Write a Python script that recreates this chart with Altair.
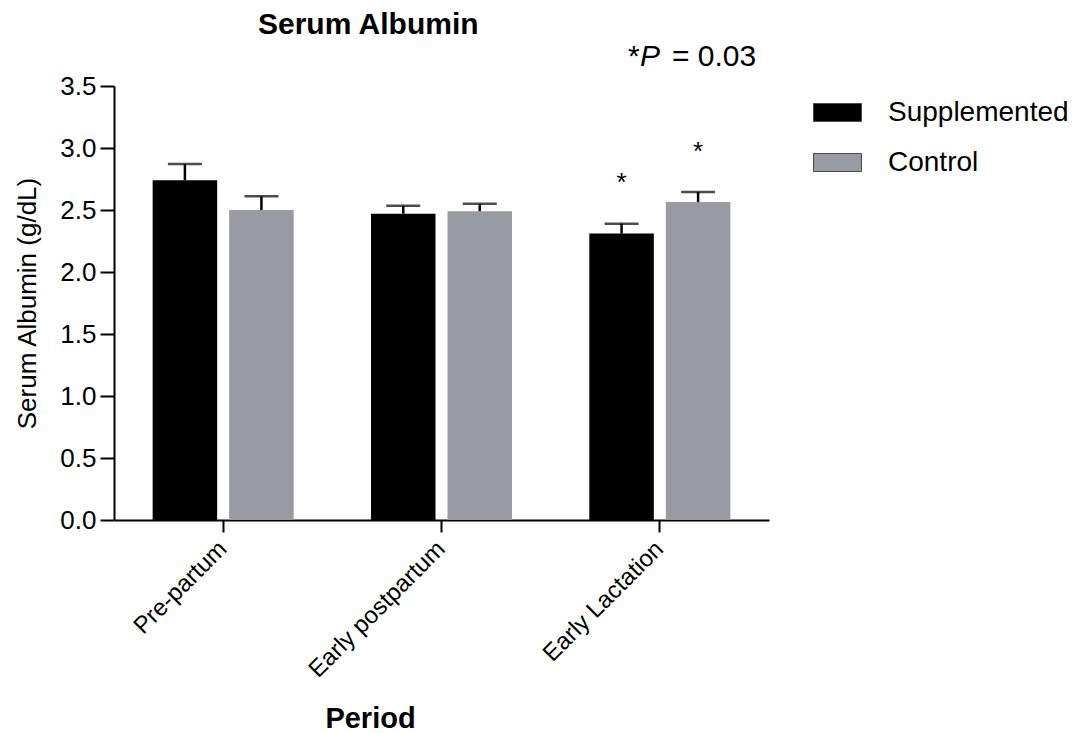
import altair as alt
import pandas as pd

FONT = "Liberation Sans"

periods = ["Pre-partum", "Early postpartum", "Early Lactation"]
groups = ["Supplemented", "Control"]
colors = ["#000000", "#999BA2"]

supp_mean = [2.74, 2.47, 2.31]
supp_err = [0.13, 0.065, 0.08]
supp_star = ["", "", "*"]

ctrl_mean = [2.50, 2.49, 2.565]
ctrl_err = [0.11, 0.06, 0.08]
ctrl_star = ["", "", "*"]

y_ticks = [0.0, 0.5, 1.0, 1.5, 2.0, 2.5, 3.0, 3.5]
p_parts = ["*", "P", "= 0.03"]

rows = []
for i, p in enumerate(periods):
    rows.append(dict(period=p, group="Supplemented", mean=supp_mean[i], err=supp_err[i], star=supp_star[i]))
    rows.append(dict(period=p, group="Control", mean=ctrl_mean[i], err=ctrl_err[i], star=ctrl_star[i]))
df = pd.DataFrame(rows)
df["top"] = df["mean"] + df["err"]
df["star_y"] = df["top"] + 0.26

x_enc = alt.X(
    "period:N",
    sort=periods,
    scale=alt.Scale(paddingInner=0.354, paddingOuter=0.177),
    axis=alt.Axis(
        title="Period",
        titleFont=FONT,
        titleFontSize=29,
        titleFontWeight="bold",
        titleColor="black",
        titleX=256,
        titleY=207,
        titleBaseline="alphabetic",
        labelAngle=-45,
        labelAlign="right",
        labelBaseline="middle",
        labelFont=FONT,
        labelFontSize=24,
        labelColor="black",
        labelPadding=13,
        labelLimit=0,
        tickSize=12,
        tickWidth=2,
        tickColor="black",
        domainWidth=2,
        domainColor="black",
    ),
)
xo_enc = alt.XOffset("group:N", sort=groups, scale=alt.Scale(paddingInner=0.157, paddingOuter=0))
y_scale = alt.Scale(domain=[0, 3.5], nice=False, zero=True)

bars = alt.Chart(df).mark_bar().encode(
    x=x_enc,
    xOffset=xo_enc,
    y=alt.Y(
        "mean:Q",
        scale=y_scale,
        axis=alt.Axis(
            title="Serum Albumin (g/dL)",
            titleFont=FONT,
            titleFontSize=26,
            titleFontWeight="normal",
            titleColor="black",
            titlePadding=19,
            values=y_ticks,
            format=".1f",
            labelFont=FONT,
            labelFontSize=26,
            labelColor="black",
            labelPadding=4,
            tickSize=14,
            tickWidth=2,
            tickColor="black",
            domainWidth=2,
            domainColor="black",
            grid=False,
        ),
    ),
    color=alt.Color(
        "group:N",
        sort=groups,
        scale=alt.Scale(domain=groups, range=colors),
        legend=alt.Legend(
            title=None,
            orient="none",
            legendX=699,
            legendY=2,
            symbolType="M-1,-0.375H1V0.375H-1Z",
            symbolSize=2304,
            symbolStrokeColor="#4a4a4a",
            symbolStrokeWidth=1,
            symbolOpacity=1,
            labelFont=FONT,
            labelFontSize=28,
            labelColor="black",
            labelOffset=26,
            labelLimit=0,
            rowPadding=11,
        ),
    ),
)

rules = alt.Chart(df).mark_rule(color="black", strokeWidth=2.5).encode(
    x=x_enc, xOffset=xo_enc, y=alt.Y("mean:Q", scale=y_scale), y2="top:Q"
)
caps = alt.Chart(df).mark_tick(color="black", size=34, thickness=2.5).encode(
    x=x_enc, xOffset=xo_enc, y=alt.Y("top:Q", scale=y_scale)
)
stars = alt.Chart(df).mark_text(font=FONT, fontSize=26, color="black", baseline="alphabetic").encode(
    x=x_enc, xOffset=xo_enc, y=alt.Y("star_y:Q", scale=y_scale), text="star:N"
)

p1 = alt.Chart(pd.DataFrame({"t": [p_parts[0]]})).mark_text(
    font=FONT, fontSize=30, color="black", align="left", baseline="alphabetic"
).encode(x=alt.value(514), y=alt.value(-20), text="t:N")
p2 = alt.Chart(pd.DataFrame({"t": [p_parts[1]]})).mark_text(
    font=FONT, fontSize=30, fontStyle="italic", color="black", align="left", baseline="alphabetic"
).encode(x=alt.value(526), y=alt.value(-20), text="t:N")
p3 = alt.Chart(pd.DataFrame({"t": [p_parts[2]]})).mark_text(
    font=FONT, fontSize=30, color="black", align="left", baseline="alphabetic"
).encode(x=alt.value(558), y=alt.value(-20), text="t:N")

chart = alt.layer(bars, rules, caps, stars, p1, p2, p3).properties(
    width=655,
    height=434,
    title=alt.TitleParams(
        "Serum Albumin",
        anchor="start",
        frame="group",
        dx=144,
        offset=2,
        font=FONT,
        fontSize=30,
        fontWeight="bold",
        color="black",
    ),
    autosize=alt.AutoSizeParams(type="none"),
    padding={"left": 106, "top": 78, "right": 300, "bottom": 212},
).configure_view(stroke=None)

chart.save("out.html", embed_options={"renderer": "svg", "actions": False})
